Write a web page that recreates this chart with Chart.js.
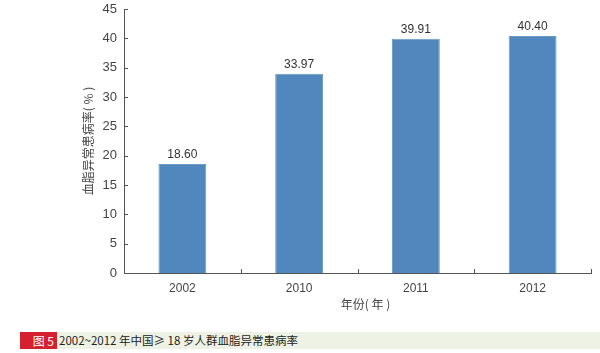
<!DOCTYPE html>
<html>
<head>
<meta charset="utf-8">
<script src="https://cdn.jsdelivr.net/npm/chart.js@4.4.0/dist/chart.umd.min.js"></script>
<style>
  body { margin: 0; background: #fff; font-family: "Noto Sans CJK SC", "Liberation Sans", sans-serif; }
  #wrap { position: relative; width: 600px; height: 326px; }
  #caption { position: absolute; left: 0; top: 332px; width: 600px; height: 17px; }
  #caption .tag { position: absolute; left: 20px; top: 0; width: 37px; height: 17px; background: #d4202f; color: #fff;
    font-size: 12px; line-height: 17px; text-align: right; padding-right: 3px; box-sizing: border-box; }
  #caption .band { position: absolute; left: 57px; top: 0; right: 0; height: 17px; background: #eef2e4; color: #222;
    font-size: 11.5px; line-height: 17px; padding-left: 2px; }
</style>
</head>
<body>
<div id="wrap"><canvas id="prevChart"></canvas></div>
<div id="caption"><div class="tag">图 5</div><div class="band">2002~2012 年中国≥ 18 岁人群血脂异常患病率</div></div>
<script>
// data
const years = ['2002', '2010', '2011', '2012'];
const rates = [18.60, 33.97, 39.91, 40.40];
const yTicks = [0, 5, 10, 15, 20, 25, 30, 35, 40, 45];
const xTitle = '年份( 年 )';
const yTitle = '血脂异常患病率( % )';

const valueLabels = {
    id: 'valueLabels',
    afterDatasetsDraw(chart) {
        const ctx = chart.ctx;
        const meta = chart.getDatasetMeta(0);
        ctx.save();
        ctx.font = '12px "Liberation Sans", sans-serif';
        ctx.fillStyle = '#333';
        ctx.textAlign = 'center';
        ctx.textBaseline = 'bottom';
        meta.data.forEach((bar, i) => {
            ctx.fillText(rates[i].toFixed(2), bar.x, bar.y - 3);
        });
        ctx.restore();
    }
};

// axis titles and inner tick marks
const axisExtras = {
    id: 'axisExtras',
    afterDraw(chart) {
        const c = chart.ctx;
        const xs = chart.scales.x, ys = chart.scales.y;
        const area = chart.chartArea;
        c.save();
        c.strokeStyle = '#555';
        c.lineWidth = 1;
        c.beginPath();
        yTicks.forEach(v => {
            const y = Math.round(ys.getPixelForValue(v)) + 0.5;
            c.moveTo(area.left, y);
            c.lineTo(area.left + 4, y);
        });
        for (let i = 1; i <= years.length; i++) {
            const x = Math.round(xs.getPixelForValue(i - 0.5)) + 0.5;
            c.moveTo(x, area.bottom);
            c.lineTo(x, area.bottom - 4);
        }
        c.stroke();

        c.fillStyle = '#444';
        c.font = '12px "Noto Sans CJK SC"';
        c.textAlign = 'center';
        c.textBaseline = 'middle';
        c.fillText(xTitle, (area.left + area.right) / 2 + 8, area.bottom + 31);
        c.translate(88, (area.top + area.bottom) / 2);
        c.rotate(-Math.PI / 2);
        c.fillText(yTitle, 0, 0);
        c.restore();
    }
};

const ctx = document.getElementById('prevChart').getContext('2d');
new Chart(ctx, {
    type: 'bar',
    data: {
        labels: years,
        datasets: [{
            data: rates,
            backgroundColor: '#5087bd',
            borderColor: '#6b9bc8',
            borderWidth: 1,
            barPercentage: 0.41,
            categoryPercentage: 1
        }]
    },
    options: {
        responsive: true,
        maintainAspectRatio: false,
        animation: false,
        layout: { padding: { top: 9, right: 9, left: 0, bottom: 0 } },
        plugins: {
            legend: { display: false },
            tooltip: { enabled: false }
        },
        scales: {
            x: {
                grid: { display: false, drawTicks: false },
                border: { color: '#555', width: 1 },
                ticks: { color: '#444', font: { size: 12, family: '"Liberation Sans", sans-serif' }, padding: 8 },
                afterFit(scale) { scale.height = 53; scale.paddingLeft = 0; scale.paddingRight = 0; }
            },
            y: {
                min: 0,
                max: 45,
                afterBuildTicks(scale) { scale.ticks = yTicks.map(v => ({ value: v })); },
                grid: { display: false, drawTicks: false },
                border: { color: '#555', width: 1 },
                ticks: { color: '#444', font: { size: 13, family: '"Liberation Sans", sans-serif' }, padding: 7 },
                afterFit(scale) { scale.width = 124; scale.paddingTop = 0; scale.paddingBottom = 0; }
            }
        }
    },
    plugins: [valueLabels, axisExtras]
});
</script>
</body>
</html>
